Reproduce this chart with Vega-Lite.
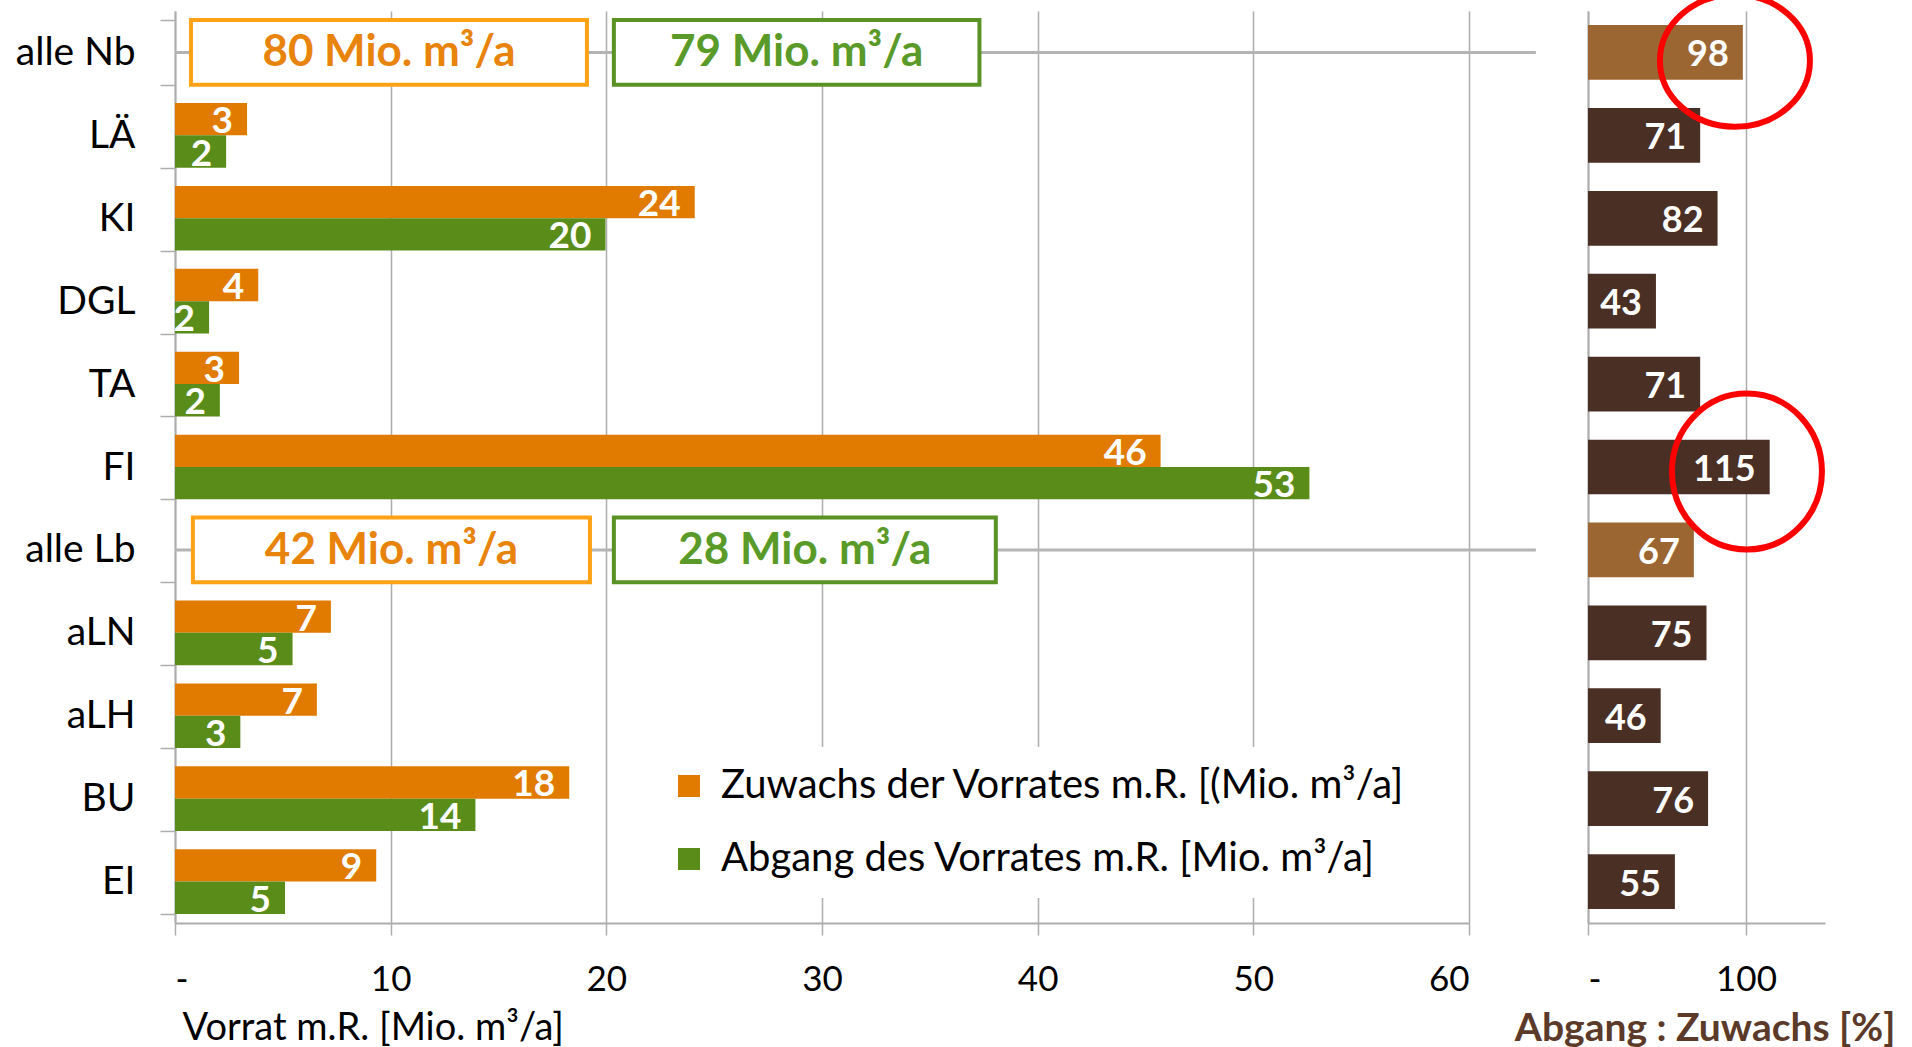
{
  "$schema": "https://vega.github.io/schema/vega-lite/v6.json",
  "padding": {"left": 15, "top": -18, "right": 5, "bottom": 0},
  "bounds": "flush",
  "spacing": 119,
  "datasets": {
    "balken": [
      {"art": "LÄ", "reihe": "Zuwachs der Vorrates m.R. [(Mio. m³/a]", "wert": 3.34},
      {"art": "LÄ", "reihe": "Abgang des Vorrates m.R. [Mio. m³/a]", "wert": 2.37},
      {"art": "KI", "reihe": "Zuwachs der Vorrates m.R. [(Mio. m³/a]", "wert": 24.1},
      {"art": "KI", "reihe": "Abgang des Vorrates m.R. [Mio. m³/a]", "wert": 19.96},
      {"art": "DGL", "reihe": "Zuwachs der Vorrates m.R. [(Mio. m³/a]", "wert": 3.86},
      {"art": "DGL", "reihe": "Abgang des Vorrates m.R. [Mio. m³/a]", "wert": 1.58},
      {"art": "TA", "reihe": "Zuwachs der Vorrates m.R. [(Mio. m³/a]", "wert": 2.97},
      {"art": "TA", "reihe": "Abgang des Vorrates m.R. [Mio. m³/a]", "wert": 2.08},
      {"art": "FI", "reihe": "Zuwachs der Vorrates m.R. [(Mio. m³/a]", "wert": 45.7},
      {"art": "FI", "reihe": "Abgang des Vorrates m.R. [Mio. m³/a]", "wert": 52.6},
      {"art": "aLN", "reihe": "Zuwachs der Vorrates m.R. [(Mio. m³/a]", "wert": 7.23},
      {"art": "aLN", "reihe": "Abgang des Vorrates m.R. [Mio. m³/a]", "wert": 5.45},
      {"art": "aLH", "reihe": "Zuwachs der Vorrates m.R. [(Mio. m³/a]", "wert": 6.58},
      {"art": "aLH", "reihe": "Abgang des Vorrates m.R. [Mio. m³/a]", "wert": 3.03},
      {"art": "BU", "reihe": "Zuwachs der Vorrates m.R. [(Mio. m³/a]", "wert": 18.28},
      {"art": "BU", "reihe": "Abgang des Vorrates m.R. [Mio. m³/a]", "wert": 13.93},
      {"art": "EI", "reihe": "Zuwachs der Vorrates m.R. [(Mio. m³/a]", "wert": 9.33},
      {"art": "EI", "reihe": "Abgang des Vorrates m.R. [Mio. m³/a]", "wert": 5.1}
    ],
    "kaesten": [
      {"art": "alle Nb", "reihe": "Zuwachs", "text": "80 Mio. m³/a", "von": 0.74, "bis": 19.1},
      {"art": "alle Nb", "reihe": "Abgang", "text": "79 Mio. m³/a", "von": 20.35, "bis": 37.3},
      {"art": "alle Lb", "reihe": "Zuwachs", "text": "42 Mio. m³/a", "von": 0.83, "bis": 19.24},
      {"art": "alle Lb", "reihe": "Abgang", "text": "28 Mio. m³/a", "von": 20.35, "bis": 38.06}
    ],
    "trenner": [
      {"art": "alle Nb", "von": 0, "bis": 63.1},
      {"art": "alle Lb", "von": 0, "bis": 63.1}
    ],
    "verhaeltnis": [
      {"art": "alle Nb", "prozent": 98, "gruppe": "summe"},
      {"art": "LÄ", "prozent": 71, "gruppe": "art"},
      {"art": "KI", "prozent": 82, "gruppe": "art"},
      {"art": "DGL", "prozent": 43, "gruppe": "art"},
      {"art": "TA", "prozent": 71, "gruppe": "art"},
      {"art": "FI", "prozent": 115, "gruppe": "art"},
      {"art": "alle Lb", "prozent": 67, "gruppe": "summe"},
      {"art": "aLN", "prozent": 75, "gruppe": "art"},
      {"art": "aLH", "prozent": 46, "gruppe": "art"},
      {"art": "BU", "prozent": 76, "gruppe": "art"},
      {"art": "EI", "prozent": 55, "gruppe": "art"}
    ],
    "kreise": [
      {"art": "alle Nb", "prozent": 93},
      {"art": "FI", "prozent": 100.6}
    ]
  },
  "hconcat": [
    {
      "width": 1294,
      "height": 912,
      "layer": [
        {
          "data": {"name": "trenner"},
          "mark": {"type": "rule", "color": "#B4B4B4", "strokeWidth": 3},
          "encoding": {
            "x": {
              "field": "von", "type": "quantitative", "scale": {"domain": [0, 60], "nice": false},
              "title": "Vorrat m.R. [Mio. m³/a]",
              "axis": {
                "values": [0, 10, 20, 30, 40, 50, 60],
                "labelExpr": "datum.value == 0 ? '-' : datum.label",
                "grid": true, "gridColor": "#ADADAD", "gridWidth": 1.5,
                "domainColor": "#ADADAD", "domainWidth": 2,
                "tickColor": "#ADADAD", "tickSize": 12, "tickWidth": 1.5,
                "labelFontSize": 35, "labelColor": "#000000", "labelBaseline": "middle", "labelPadding": 44, "labelDx": -8,
                "titleFontSize": 38, "titleFontWeight": "normal", "titleColor": "#000000",
                "titleX": 7, "titleY": 105, "titleAlign": "left", "titleBaseline": "middle", "titleAnchor": "start"
              }
            },
            "x2": {"field": "bis"},
            "y": {
              "field": "art", "type": "nominal", "title": null,
              "scale": {"domain": ["alle Nb", "LÄ", "KI", "DGL", "TA", "FI", "alle Lb", "aLN", "aLH", "BU", "EI"], "paddingInner": 0.22, "paddingOuter": 0.11},
              "axis": {
                "tickBand": "extent", "tickSize": 15, "tickColor": "#ADADAD", "tickWidth": 1.5,
                "domainColor": "#ADADAD", "domainWidth": 2,
                "labelFontSize": 39, "labelColor": "#000000", "labelPadding": 25, "labelLimit": 300
              }
            }
          }
        },
        {
          "data": {"name": "kaesten"},
          "mark": {"type": "rect", "fill": "white", "strokeWidth": 4},
          "encoding": {
            "x": {"field": "von", "type": "quantitative"},
            "x2": {"field": "bis"},
            "y": {"field": "art", "type": "nominal"},
            "stroke": {"condition": {"test": "datum.reihe == 'Zuwachs'", "value": "#FFA216"}, "value": "#5B9226"}
          }
        },
        {
          "data": {"name": "kaesten"},
          "transform": [{"calculate": "(datum.von + datum.bis) / 2", "as": "mitte"}],
          "mark": {"type": "text", "fontSize": 44, "fontWeight": "bold", "font": "Lato", "baseline": "middle", "align": "center", "dy": 1},
          "encoding": {
            "x": {"field": "mitte", "type": "quantitative"},
            "y": {"field": "art", "type": "nominal"},
            "text": {"field": "text"},
            "color": {"condition": {"test": "datum.reihe == 'Zuwachs'", "value": "#E8830C"}, "value": "#5A9A28"}
          }
        },
        {
          "data": {"name": "balken"},
          "mark": {"type": "bar"},
          "encoding": {
            "x": {"field": "wert", "type": "quantitative"},
            "y": {"field": "art", "type": "nominal"},
            "yOffset": {"field": "reihe", "type": "nominal", "scale": {"domain": ["Zuwachs der Vorrates m.R. [(Mio. m³/a]", "Abgang des Vorrates m.R. [Mio. m³/a]"], "paddingInner": 0, "paddingOuter": 0}},
            "color": {
              "field": "reihe", "type": "nominal",
              "scale": {"domain": ["Zuwachs der Vorrates m.R. [(Mio. m³/a]", "Abgang des Vorrates m.R. [Mio. m³/a]"], "range": ["#E07B00", "#5A8C1A"]},
              "legend": {
                "orient": "none", "legendX": 475, "legendY": 736, "title": null,
                "symbolType": "square", "symbolSize": 484, "symbolStrokeWidth": 0,
                "labelFontSize": 40, "labelColor": "#000000", "labelLimit": 1000, "labelOffset": 12,
                "rowPadding": 33, "padding": 19, "fillColor": "white"
              }
            }
          }
        },
        {
          "data": {"name": "balken"},
          "mark": {"type": "text", "fontSize": 37, "fontWeight": "bold", "font": "Lato", "color": "white", "align": "right", "baseline": "middle", "dx": -14, "dy": 3},
          "encoding": {
            "x": {"field": "wert", "type": "quantitative"},
            "y": {"field": "art", "type": "nominal"},
            "yOffset": {"field": "reihe", "type": "nominal"},
            "text": {"field": "wert", "type": "quantitative", "format": ".0f"}
          }
        }
      ]
    },
    {
      "width": 237,
      "height": 912,
      "layer": [
        {
          "data": {"name": "verhaeltnis"},
          "mark": {"type": "bar"},
          "encoding": {
            "x": {
              "field": "prozent", "type": "quantitative", "scale": {"domain": [0, 150], "nice": false},
              "title": "Abgang : Zuwachs [%]",
              "axis": {
                "values": [0, 100],
                "labelExpr": "datum.value == 0 ? '-' : datum.label",
                "grid": true, "gridColor": "#ADADAD", "gridWidth": 1.5,
                "domainColor": "#ADADAD", "domainWidth": 2,
                "tickColor": "#ADADAD", "tickSize": 12, "tickWidth": 1.5,
                "labelFontSize": 35, "labelColor": "#000000", "labelBaseline": "middle", "labelPadding": 44, "labelDx": -8,
                "titleFontSize": 39, "titleFontWeight": "bold", "titleColor": "#5B3A29",
                "titleX": 307, "titleY": 105, "titleAlign": "right", "titleBaseline": "middle", "titleAnchor": "end"
              }
            },
            "y": {
              "field": "art", "type": "nominal", "title": null,
              "scale": {"domain": ["alle Nb", "LÄ", "KI", "DGL", "TA", "FI", "alle Lb", "aLN", "aLH", "BU", "EI"], "paddingInner": 0.34, "paddingOuter": 0.17},
              "axis": {"labels": false, "ticks": false, "domainColor": "#ADADAD", "domainWidth": 2}
            },
            "color": {"field": "gruppe", "type": "nominal", "scale": {"domain": ["summe", "art"], "range": ["#9C6633", "#4A2F25"]}, "legend": null}
          }
        },
        {
          "data": {"name": "verhaeltnis"},
          "mark": {"type": "text", "fontSize": 36, "fontWeight": "bold", "font": "Lato", "color": "white", "align": "right", "baseline": "middle", "dx": -14, "dy": 3},
          "encoding": {
            "x": {"field": "prozent", "type": "quantitative"},
            "y": {"field": "art", "type": "nominal"},
            "text": {"field": "prozent", "type": "quantitative", "format": ".0f"}
          }
        },
        {
          "data": {"name": "kreise"},
          "mark": {"type": "point", "filled": false, "size": 22500, "stroke": "#FF0000", "strokeWidth": 6, "opacity": 1},
          "encoding": {
            "x": {"field": "prozent", "type": "quantitative"},
            "y": {"field": "art", "type": "nominal"},
            "shape": {
              "field": "art", "type": "nominal", "legend": null,
              "scale": {"domain": ["alle Nb", "FI"], "range": ["M -1 0.11 A 1 0.88 0 1 0 1 0.11 A 1 0.88 0 1 0 -1 0.11 Z", "M -1 0.06 A 1 1.04 0 1 0 1 0.06 A 1 1.04 0 1 0 -1 0.06 Z"]}
            }
          }
        }
      ]
    }
  ],
  "resolve": {"scale": {"x": "independent", "y": "independent", "color": "independent", "shape": "independent"}, "legend": {"color": "independent", "shape": "independent"}},
  "config": {
    "font": "Lato",
    "view": {"stroke": null},
    "axis": {"labelFont": "Lato", "titleFont": "Lato"},
    "legend": {"labelFont": "Lato"},
    "background": "white"
  }
}
